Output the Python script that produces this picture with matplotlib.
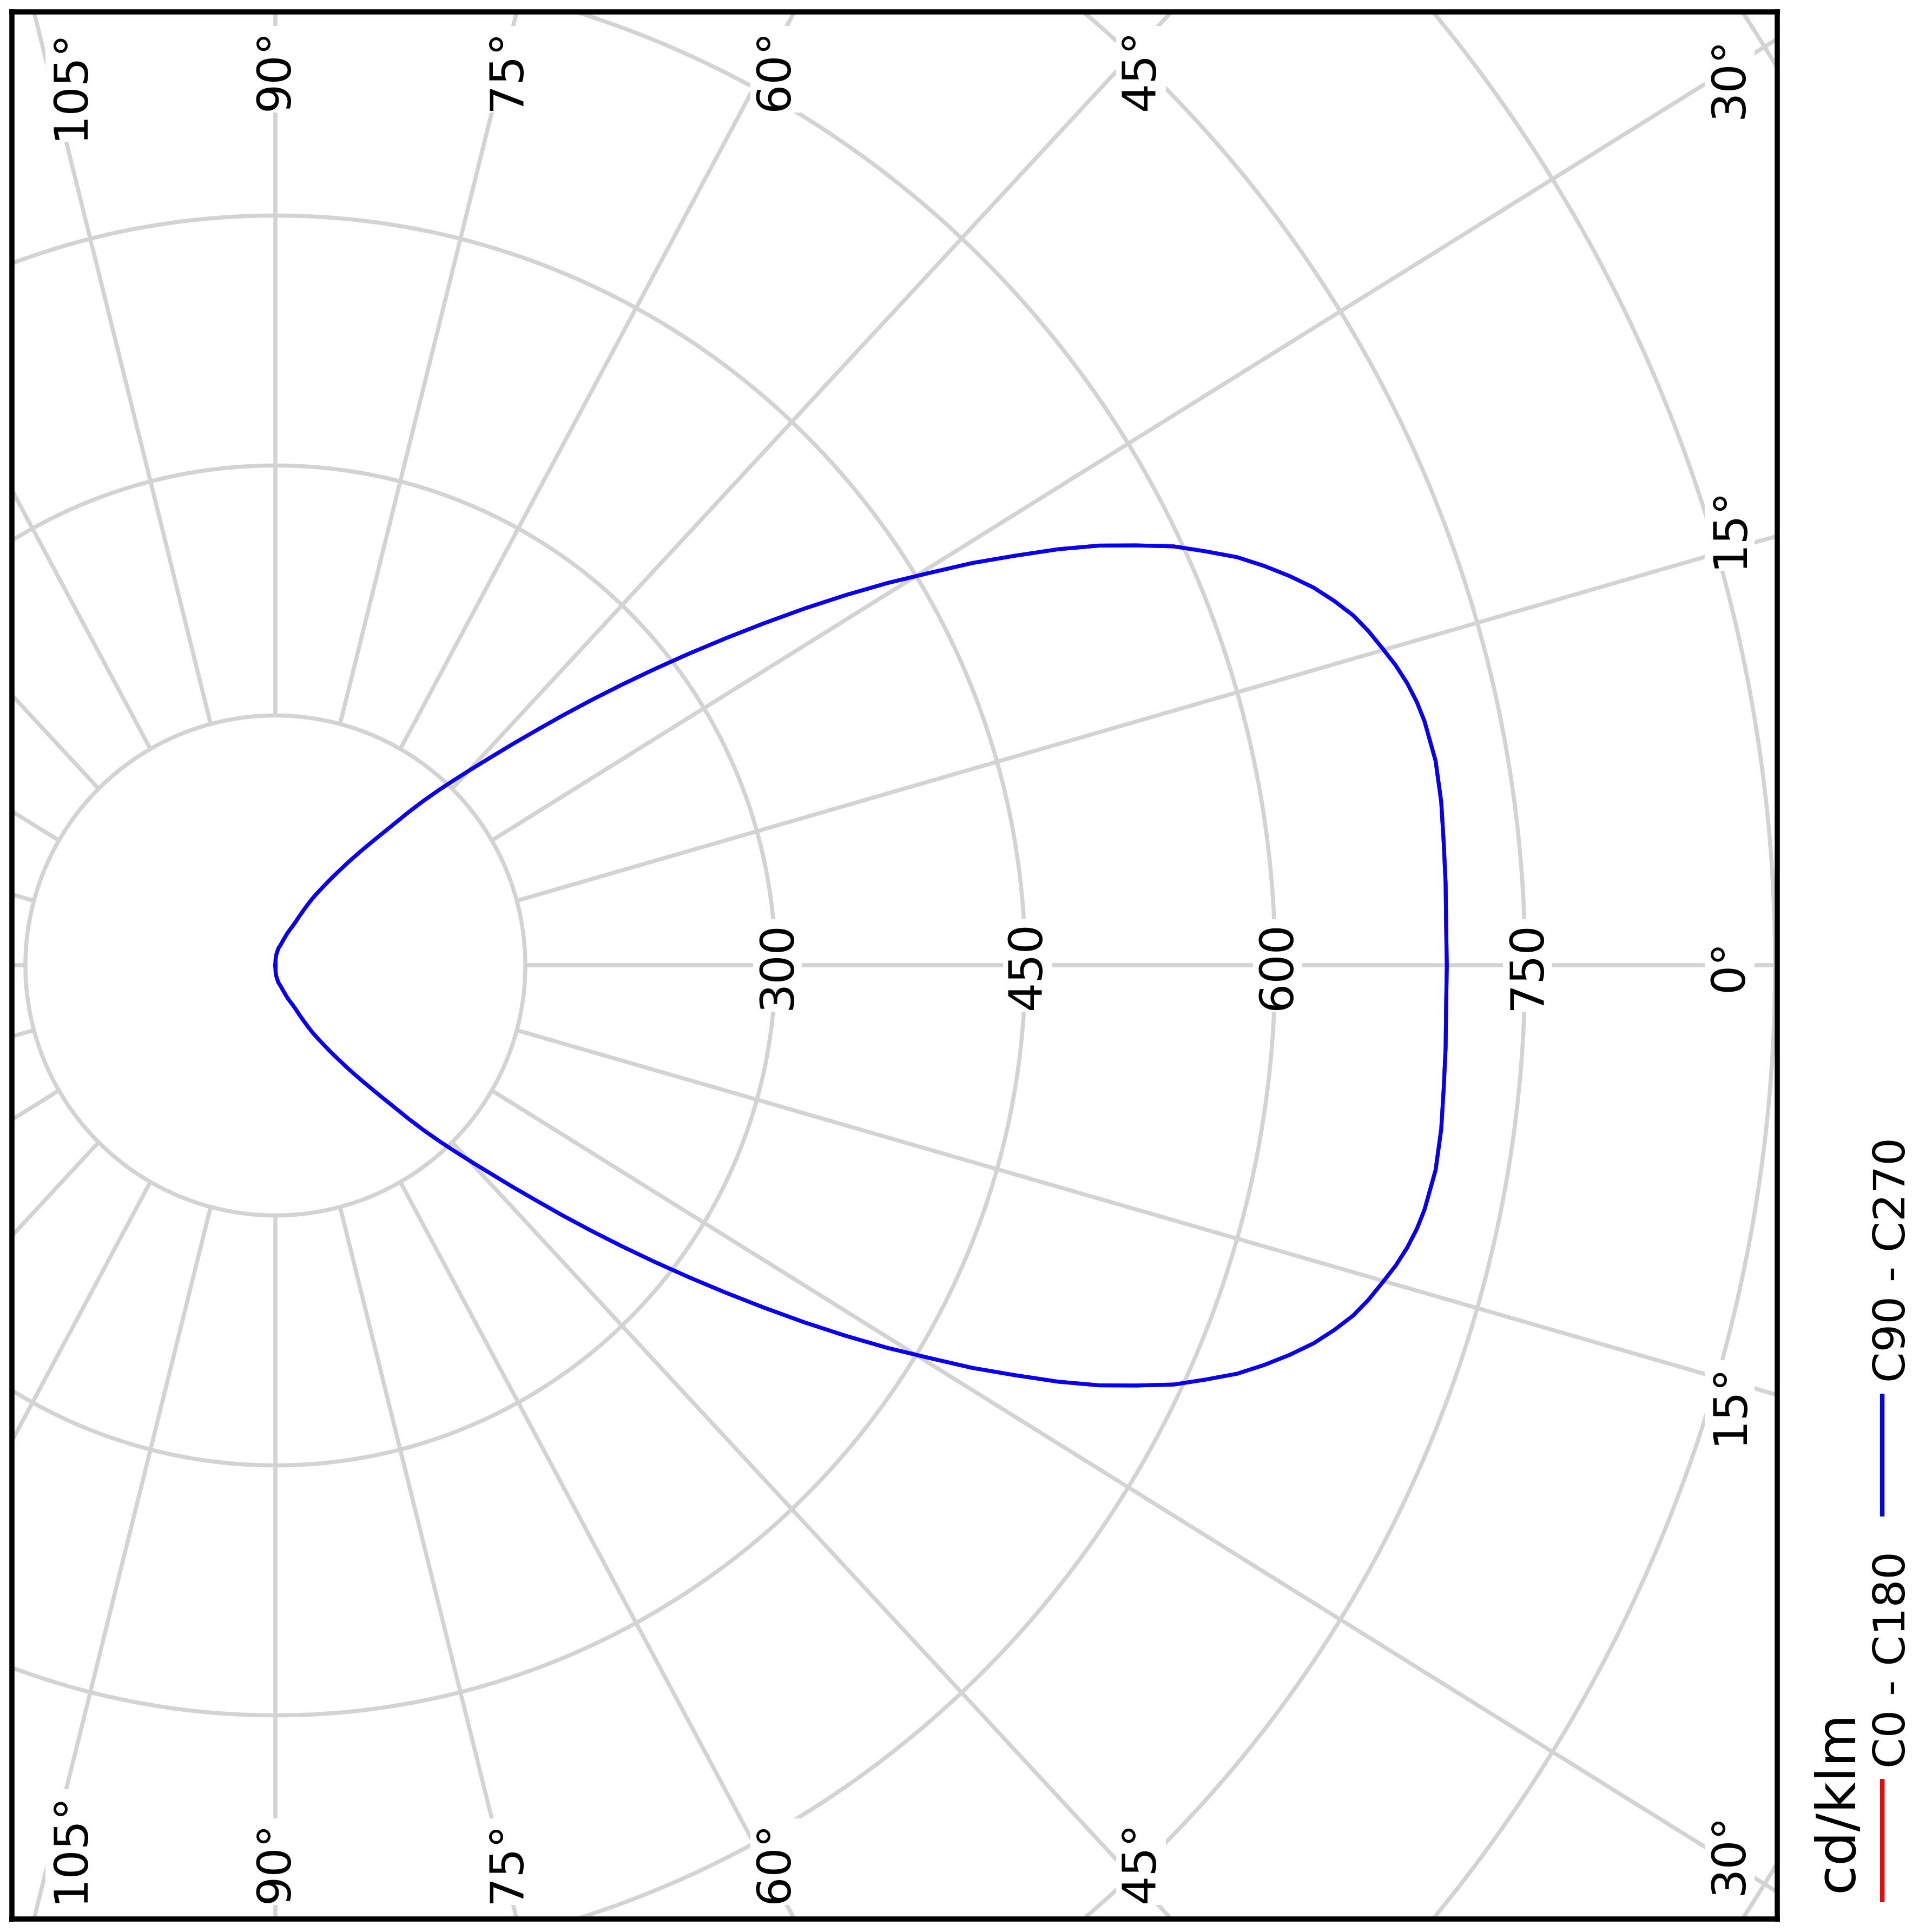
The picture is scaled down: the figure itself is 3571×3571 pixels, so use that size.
import numpy as np
import matplotlib
matplotlib.use("Agg")
import matplotlib.pyplot as plt
from matplotlib.lines import Line2D

plt.rcParams['font.family'] = ['DejaVu Sans']

# ---------------- data (cd/klm vs gamma angle) ----------------
gamma_deg = [0, 2, 4, 6, 8, 10, 12,
             13, 14, 15, 16, 17, 18, 19, 20, 21, 22,
             23, 24, 25, 26, 27, 28, 29, 30, 31, 32,
             33, 34, 35, 36, 37, 38, 39, 40, 41, 42,
             43, 44, 45, 46, 47, 48, 49, 50, 51, 52,
             53, 54, 55, 56, 57, 58, 59, 60, 61, 62,
             63, 64, 65, 66,
             68, 70, 73, 76, 80, 85, 88, 90]
c90_c270 = [703, 703, 704, 705, 706.5, 707, 705,
            703, 700, 696, 691, 686, 680, 672, 663, 652, 640,
            627, 611, 595, 575, 555, 532, 507, 483, 457, 433,
            408, 383, 358, 334, 311, 289, 268, 248, 229, 211,
            195, 180, 167, 155, 144, 133, 122, 111, 102, 94,
            87, 80.5, 74.5, 68.5, 63.5, 58.5, 54, 50, 46, 41.5,
            37, 33, 29, 26.5,
            23, 20, 15.5, 12.5, 10.5, 6.5, 3.7, 0]
# C0-C180 coincides with C90-C270 (hidden under the blue curve)
c0_c180 = list(c90_c270)

ring_values = [150, 300, 450, 600, 750, 900, 1050, 1200]
ring_labels = [300, 450, 600, 750]
spoke_angles = list(range(0, 360, 15))
angle_labels = [0, 15, 30, 45, 60, 75, 90, 105]
legend_title = "cd/klm"
series_names = ["C0 - C180", "C90 - C270"]
series_colors = ["#ff0000", "#0000ff"]

# ---------------- figure ----------------
W = 3571
DPI = 300
fig = plt.figure(figsize=(W / DPI, W / DPI), dpi=DPI)
fig.patch.set_facecolor("white")

def fx(px):
    return px / W

def fy(py):
    return 1 - py / W

ax = fig.add_axes([fx(22), fy(3547), (3285 - 22) / W, (3547 - 22) / W])
ax.set_xlim(-158.1, 901.3)
ax.set_ylim(-572.2, 572.2)
ax.set_xticks([])
ax.set_yticks([])
for sp in ax.spines.values():
    sp.set_linewidth(2.3)
    sp.set_color("black")
    sp.set_zorder(10)

GRID = "#d3d3d3"
GLW = 1.8
K_STRETCH = 1.08

# rings
t = np.linspace(0, 2 * np.pi, 721)
for r in ring_values:
    ax.plot(r * np.cos(t), r * np.sin(t), color=GRID, lw=GLW, zorder=1,
            solid_capstyle="butt")

# spokes (start at inner ring)
r0 = ring_values[0]
for a in spoke_angles:
    th = np.radians(a)
    x0, y0 = r0 * np.cos(th), r0 * np.sin(th)
    L = 2500
    x1, y1 = x0 + L * np.cos(th), y0 + L * K_STRETCH * np.sin(th)
    ax.plot([x0, x1], [y0, y1], color=GRID, lw=GLW, zorder=1,
            solid_capstyle="butt")

box = dict(boxstyle="square,pad=0.05", fc="white", ec="none")
FS = 20.5

# radial value labels on the 0 deg axis
for r in ring_labels:
    ax.text(r + 1.5, 0, f"{r}", rotation=90, ha="center", va="center",
            fontsize=FS, color="black", bbox=box, zorder=3)

# angle labels
X_EDGE = 872.7
Y_EDGE = 519.5
Y_TOP = 562.3
X_MIN = -123.0
for a in angle_labels:
    for sgn in (1, -1):
        if a == 0 and sgn == -1:
            continue
        th = np.radians(a)
        if np.cos(th) > 1e-9 and X_EDGE * np.tan(th) <= Y_EDGE:
            x = X_EDGE
            if a == 0:
                y, va = 0.0, "center"
            else:
                y = sgn * (X_EDGE * np.tan(th) + 4.5)
                va = "bottom" if sgn > 0 else "top"
        else:
            x = max(Y_EDGE * np.cos(th) / np.sin(th), X_MIN)
            y = sgn * Y_TOP
            va = "top" if sgn > 0 else "bottom"
        ax.text(x, y, f"{a}°", rotation=90, ha="center", va=va,
                fontsize=FS, color="black", bbox=box, zorder=3)

# intensity curves
g = np.array(gamma_deg, dtype=float)
for vals, col in zip([c0_c180, c90_c270], series_colors):
    v = np.array(vals, dtype=float)
    th = np.radians(np.concatenate([-g[::-1], g[1:]]))
    rr = np.concatenate([v[::-1], v[1:]])
    ax.plot(rr * np.cos(th), rr * np.sin(th), color=col, lw=1.7, zorder=5,
            solid_joinstyle="round")

# legend (rotated, outside the frame)
fig.text(fx(3424), fy(3497), legend_title, rotation=90, rotation_mode="anchor",
         ha="left", va="baseline", fontsize=24, color="black")
leg_lines = [(3516, 3288), (2803, 2576)]
leg_text_start = [3268, 2555]
for name, col, (ya, yb), ys in zip(series_names, series_colors, leg_lines, leg_text_start):
    fig.add_artist(Line2D([fx(3479), fx(3479)], [fy(ya), fy(yb)], color=col,
                          lw=2.0, transform=fig.transFigure, solid_capstyle="butt"))
    fig.text(fx(3521), fy(ys), name, rotation=90, rotation_mode="anchor",
             ha="left", va="baseline", fontsize=19.5, color="black")

fig.savefig("out.png", dpi=DPI, facecolor="white")
